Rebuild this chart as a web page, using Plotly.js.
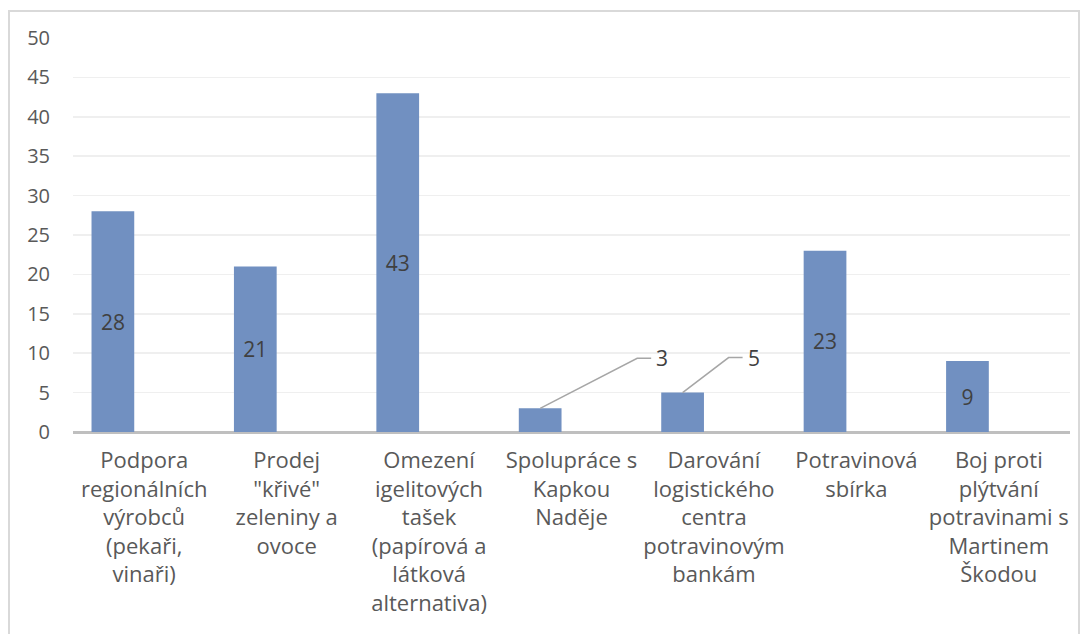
<!DOCTYPE html>
<html><head><meta charset="utf-8">
<script src="https://cdn.plot.ly/plotly-3.0.1.min.js"></script>
<style>
html,body{margin:0;padding:0;background:#fff;overflow:hidden;}
#chart{position:absolute;left:0;top:0;width:1086px;height:634px;}
#frame{position:absolute;left:8px;top:10px;width:1068px;height:700px;border:2px solid #D9D9D9;pointer-events:none;}
</style></head>
<body>
<div id="chart"></div>
<div id="frame"></div>
<script>
const categories = [
  "Podpora<br>regionálních<br>výrobců<br>(pekaři,<br>vinaři)",
  "Prodej<br>\"křivé\"<br>zeleniny a<br>ovoce",
  "Omezení<br>igelitových<br>tašek<br>(papírová a<br>látková<br>alternativa)",
  "Spolupráce s<br>Kapkou<br>Naděje",
  "Darování<br>logistického<br>centra<br>potravinovým<br>bankám",
  "Potravinová<br>sbírka",
  "Boj proti<br>plýtvání<br>potravinami s<br>Martinem<br>Škodou"
];
const values = [28, 21, 43, 3, 5, 23, 9];
const yTicks = [0, 5, 10, 15, 20, 25, 30, 35, 40, 45, 50];

const idx = categories.map((c, i) => i);
const insideText = values.map(v => v >= 9 ? String(v) : '');
const fontFam = '"Open Sans", Lato, sans-serif';

const annotations = [];
const shapes = [];
values.forEach((v, i) => {
  if (v < 9) {
    const cx = i - 0.22;
    shapes.push({
      type: 'path', xref: 'x', yref: 'y',
      xsizemode: 'pixel', ysizemode: 'pixel',
      xanchor: cx, yanchor: v,
      path: 'M0,0 L' + (i === 3 ? 97 : 46) + ',' + (i === 3 ? 50 : 35) + ' L' + (i === 3 ? 111 : 60) + ',' + (i === 3 ? 50 : 35),
      line: {color: '#A6A6A6', width: 1.5}
    });
    annotations.push({
      x: cx, y: v, xref: 'x', yref: 'y',
      text: String(v), showarrow: false,
      xanchor: 'left', yanchor: 'middle',
      xshift: (i === 3 ? 114 : 63), yshift: (i === 3 ? 50 : 35),
      font: {family: fontFam, size: 21, color: '#404040'}
    });
  }
});

const trace = {
  type: 'bar',
  x: idx, y: values,
  width: 0.3, offset: -0.37,
  marker: {color: '#7190C1'},
  text: insideText,
  textposition: 'inside',
  insidetextanchor: 'middle',
  textangle: 0,
  textfont: {family: fontFam, size: 21, color: '#404040'},
  hoverinfo: 'none'
};

const layout = {
  width: 1086, height: 634,
  margin: {l: 73, r: 16, t: 38, b: 202},
  paper_bgcolor: 'rgba(0,0,0,0)', plot_bgcolor: 'rgba(0,0,0,0)',
  showlegend: false,
  xaxis: {
    range: [-0.5, 6.5],
    tickvals: idx, ticktext: categories,
    showgrid: false, zeroline: false,
    showline: false, ticks: '',
    ticklabelstandoff: 13,
    tickfont: {family: fontFam, size: 22, color: '#595959'},
    fixedrange: true
  },
  yaxis: {
    range: [0, 50],
    tickvals: yTicks,
    showgrid: true, gridcolor: '#EFEFEF', gridwidth: 1.5,
    zeroline: true, zerolinecolor: '#BFBFBF', zerolinewidth: 3,
    showline: false, ticks: '',
    ticklabelstandoff: 22,
    tickfont: {family: fontFam, size: 20, color: '#595959'},
    fixedrange: true
  },
  shapes: shapes,
  annotations: annotations
};

Plotly.newPlot('chart', [trace], layout, {displayModeBar: false, staticPlot: true});
</script>
</body></html>
